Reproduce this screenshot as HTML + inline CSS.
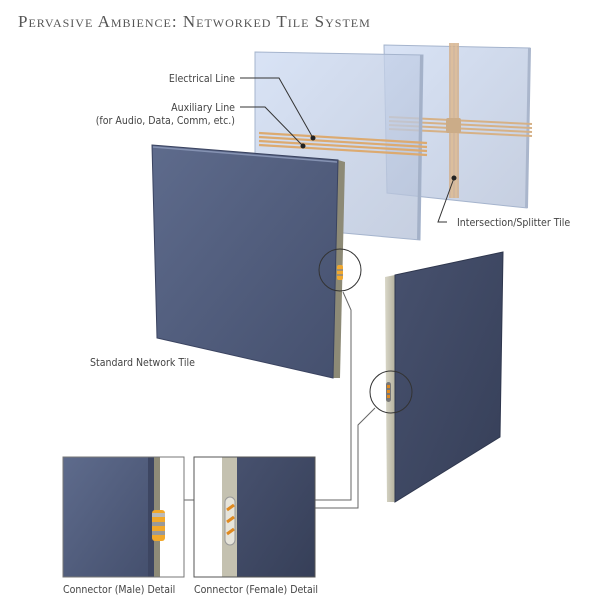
<!DOCTYPE html>
<html><head><meta charset="utf-8"><style>
html,body{margin:0;padding:0;background:#fff;}
svg{display:block}
text{font-family:"DejaVu Sans Condensed","Liberation Sans",sans-serif;fill:#444;font-size:10.5px}
</style></head><body>
<svg width="600" height="600" viewBox="0 0 600 600" xmlns="http://www.w3.org/2000/svg">
<defs>
<linearGradient id="tf" x1="0" y1="0" x2="1" y2="1">
<stop offset="0" stop-color="#5e6b8c"/><stop offset="1" stop-color="#45506e"/></linearGradient>
<linearGradient id="tf2" x1="0" y1="0" x2="1" y2="1">
<stop offset="0" stop-color="#47516e"/><stop offset="1" stop-color="#363f58"/></linearGradient>
<linearGradient id="gl" x1="0" y1="0" x2="1" y2="1">
<stop offset="0" stop-color="#cfdcf3" stop-opacity="0.8"/><stop offset="1" stop-color="#b3bfd6" stop-opacity="0.75"/></linearGradient>
<linearGradient id="bg" x1="0" y1="0" x2="1" y2="0">
<stop offset="0" stop-color="#d9d7c8"/><stop offset="1" stop-color="#b5b29f"/></linearGradient>
</defs>
<text x="18" y="27" style="font-family:'Liberation Serif',serif;font-size:17px;font-variant:small-caps;letter-spacing:1px;fill:#555">Pervasive Ambience: Networked Tile System</text>

<!-- glass 2 -->
<polygon points="384,45 530,48 527,208 387,193" fill="url(#gl)" stroke="#a5b4cd" stroke-width="1"/>
<polygon points="528,48 531,48 528,208 525,208" fill="#aab6cc"/>
<g stroke="#d6b186" stroke-width="2" fill="none">
<line x1="389" y1="117" x2="532" y2="124"/><line x1="389" y1="121" x2="532" y2="128"/><line x1="389" y1="125" x2="532" y2="132"/><line x1="389" y1="129" x2="532" y2="136"/>
</g>
<rect x="449" y="43" width="10" height="155" fill="#d2b290" opacity="0.85"/>
<line x1="452" y1="43" x2="452" y2="198" stroke="#e4c49c" stroke-width="1"/><line x1="456" y1="43" x2="456" y2="198" stroke="#e4c49c" stroke-width="1"/>
<rect x="446" y="118" width="15" height="15" rx="2" fill="#cbac88"/>
<!-- glass 1 -->
<polygon points="255,52 423,55 420,240 255,225" fill="url(#gl)" stroke="#a5b4cd" stroke-width="1"/>
<polygon points="420,55 423,55 420,240 417,240" fill="#a4b1c8"/>
<g stroke="#dcaa70" stroke-width="2.2" fill="none">
<line x1="259" y1="133" x2="427" y2="143"/><line x1="259" y1="137" x2="427" y2="147"/><line x1="259" y1="141" x2="427" y2="151"/><line x1="259" y1="145" x2="427" y2="155"/>
</g>
<!-- leaders top -->
<g stroke="#333" stroke-width="1" fill="none">
<polyline points="240,78 279,78 313,138"/>
<polyline points="240,107 265,107 303,146"/>
<polyline points="454,178 438,222 447,222"/>
</g>
<circle cx="313" cy="138" r="2.5" fill="#222"/><circle cx="303" cy="146" r="2.5" fill="#222"/><circle cx="454" cy="178" r="2.5" fill="#222"/>
<text x="235" y="82" text-anchor="end">Electrical Line</text>
<text x="235" y="111" text-anchor="end">Auxiliary Line</text>
<text x="235" y="124" text-anchor="end">(for Audio, Data, Comm, etc.)</text>
<text x="457" y="226">Intersection/Splitter Tile</text>

<!-- tile 1 -->
<polygon points="338,160 345,162 340,378 333,378" fill="#8d8a76"/>
<polygon points="152,145 338,160 333,378 157,338" fill="url(#tf)" stroke="#3a4360" stroke-width="1"/>
<line x1="153" y1="147" x2="337" y2="162" stroke="#8592b2" stroke-width="1.5"/>
<rect x="337" y="265" width="6" height="15" rx="2" fill="#f0a830"/>
<line x1="337" y1="270" x2="343" y2="270" stroke="#888" stroke-width="1.5"/><line x1="337" y1="275" x2="343" y2="275" stroke="#888" stroke-width="1.5"/>
<circle cx="340" cy="270" r="21" fill="none" stroke="#333" stroke-width="1"/>
<text x="90" y="366">Standard Network Tile</text>

<!-- tile 2 -->
<polygon points="385,277 395,275 395,502 387,502" fill="url(#bg)"/>
<polygon points="395,275 503,252 500,437 395,502" fill="url(#tf2)" stroke="#2f374e" stroke-width="1"/>
<rect x="386" y="382" width="5" height="20" rx="2.5" fill="#777"/>
<rect x="387" y="385" width="3" height="3" fill="#e08a20"/><rect x="387" y="390" width="3" height="3" fill="#e08a20"/><rect x="387" y="395" width="3" height="3" fill="#e08a20"/>
<circle cx="391" cy="392" r="21" fill="none" stroke="#333" stroke-width="1"/>

<g stroke="#666" stroke-width="1" fill="none">
<polyline points="343,292 351,310 351,500 315,500"/>
<polyline points="375,408 358,425 358,508 315,508"/>
<line x1="184" y1="500" x2="194" y2="500"/>
</g>

<!-- male detail -->
<rect x="63" y="457" width="121" height="120" fill="#fff" stroke="#777"/>
<rect x="63.5" y="457.5" width="85" height="119" fill="url(#tf)"/>
<rect x="148" y="457.5" width="6" height="119" fill="#3d4662"/>
<rect x="154" y="457.5" width="6" height="119" fill="#8e8b78"/>
<rect x="152" y="510" width="13" height="31" rx="3" fill="#f2a82a"/>
<rect x="152" y="513" width="13" height="4" fill="#bbb"/><rect x="152" y="522" width="13" height="4" fill="#999"/><rect x="152" y="531" width="13" height="4" fill="#999"/>
<text x="63" y="593">Connector (Male) Detail</text>

<!-- female detail -->
<rect x="194" y="457" width="121" height="120" fill="#fff" stroke="#555"/>
<rect x="222" y="457.5" width="15" height="119" fill="#c4c1b0"/>
<rect x="237" y="457.5" width="77.5" height="119" fill="url(#tf2)"/>
<rect x="225" y="497" width="10" height="48" rx="5" fill="#e6e4da" stroke="#999"/>
<g stroke="#e08a20" stroke-width="3"><line x1="227" y1="510" x2="234" y2="505"/><line x1="227" y1="522" x2="234" y2="517"/><line x1="227" y1="534" x2="234" y2="529"/></g>
<text x="194" y="593">Connector (Female) Detail</text>
</svg>
</body></html>
